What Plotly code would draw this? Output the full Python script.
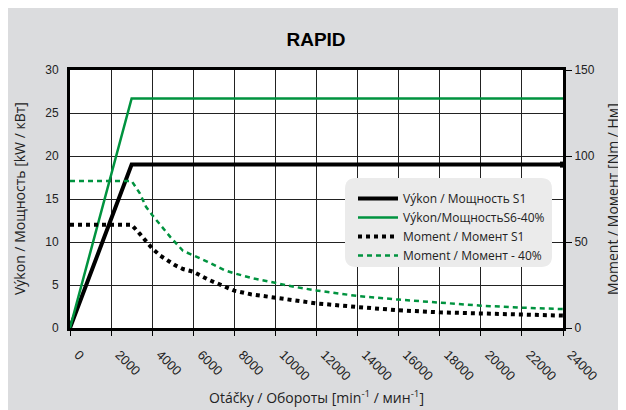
import plotly.graph_objects as go

# ---- data ----
rpm_power = [0, 3000, 24000]
power_s1 = [0, 19, 19]          # kW
power_s6 = [0, 26.7, 26.7]      # kW

rpm_t_s1 = [0, 3000, 3400, 4000, 4400, 5100, 5500, 6000, 6700, 7200, 7600, 8000,
            8800, 9700, 10500, 11400, 12000, 14000, 16000, 18000, 20000, 22000, 24000]
torque_s1 = [60, 60, 54.7, 46.3, 42.0, 36.6, 34.3, 32.7, 28.3, 26.0, 23.8, 21.7,
             19.6, 18.0, 16.7, 15.3, 14.3, 12.2, 10.3, 9.1, 8.3, 7.7, 7.2]   # Nm

rpm_t_s6 = [0, 3000, 3400, 3700, 4000, 4400, 4900, 5500, 6000, 6700, 7500, 8000,
            8900, 10000, 10900, 12000, 14000, 16000, 18000, 20000, 22000, 24000]
torque_s6 = [85.5, 85.5, 78.3, 70.5, 65.7, 59.9, 52.7, 44.9, 42.4, 38.5, 33.7, 31.8,
             28.9, 26.0, 24.0, 21.8, 18.6, 16.5, 14.7, 13.0, 11.8, 11.0]    # Nm

x_ticks = list(range(0, 24001, 2000))
y_ticks = [0, 5, 10, 15, 20, 25, 30]
y2_ticks = [0, 50, 100, 150]

names = ["Výkon / Мощность S1", "Výkon/МощностьS6-40%",
         "Moment / Момент S1", "Moment / Момент - 40%"]

GREEN = "#00933f"
GRAY = "#dbdcde"
NUM = "Liberation Sans, Arial, sans-serif"
TXT = "Open Sans, sans-serif"

fig = go.Figure()
fig.add_trace(go.Scatter(x=rpm_power, y=power_s1, mode="lines", name=names[0],
                         line=dict(color="black", width=4)))
fig.add_trace(go.Scatter(x=rpm_power, y=power_s6, mode="lines", name=names[1],
                         line=dict(color=GREEN, width=2.5)))
fig.add_trace(go.Scatter(x=rpm_t_s1, y=torque_s1, mode="lines", name=names[2], yaxis="y2",
                         line=dict(color="black", width=4, dash="4px,4px")))
fig.add_trace(go.Scatter(x=rpm_t_s6, y=torque_s6, mode="lines", name=names[3], yaxis="y2",
                         line=dict(color=GREEN, width=2.5, dash="5px,4px")))
fig.add_trace(go.Scatter(x=[rpm_power[-1]], y=[power_s1[-1]], mode="markers", showlegend=False,
                         marker=dict(symbol="square", size=6, color="black"), cliponaxis=False))

# page offset of the figure (body margin) and plot area in page pixels
OFF = 8
L, R, T, B = 70, 563, 70, 328
W, H = R - L, B - T
def px(x):
    return (x - L) / W
def py(y):
    return (B - y) / H

# rounded legend box
x0, x1, y0, y1 = px(345), px(552), py(267), py(178)
rx, ry = 11 / W, 11 / H
path = (f"M{x0+rx},{y0} L{x1-rx},{y0} Q{x1},{y0} {x1},{y0+ry} L{x1},{y1-ry} Q{x1},{y1} {x1-rx},{y1} "
        f"L{x0+rx},{y1} Q{x0},{y1} {x0},{y1-ry} L{x0},{y0+ry} Q{x0},{y0} {x0+rx},{y0} Z")

shapes = [
    dict(type="path", xref="paper", yref="paper", path=path, fillcolor="#ebebeb",
         line=dict(width=0), layer="above"),
]

annotations = [
    dict(text="Otáčky / Обороты [min<sup>-1</sup> / мин<sup>-1</sup>]", xref="paper", yref="paper",
         x=0.5, y=py(397), xanchor="center", yanchor="middle", showarrow=False,
         font=dict(family=TXT, size=14, color="#222")),
    dict(text="Výkon / Мощность [kW / кВт]", xref="paper", yref="paper", textangle=-90,
         x=px(19), y=0.5, xanchor="center", yanchor="middle", showarrow=False,
         font=dict(family=TXT, size=14, color="#222")),
    dict(text="Moment / Момент [Nm / Нм]", xref="paper", yref="paper", textangle=-90,
         x=px(612), y=0.5, xanchor="center", yanchor="middle", showarrow=False,
         font=dict(family=TXT, size=14, color="#222")),
]

fig.update_layout(
    width=626, height=410,
    margin=dict(l=L - OFF, r=626 - (R - OFF), t=T - OFF, b=410 - (B - OFF)),
    paper_bgcolor=GRAY, plot_bgcolor="white",
    title=dict(text="<b>RAPID</b>", x=(316 - OFF) / 626, xanchor="center",
               y=1 - (39 - OFF) / 410, yanchor="middle",
               font=dict(family=NUM, size=19, color="black")),
    shapes=shapes, annotations=annotations,
    showlegend=True,
    legend=dict(x=px(353), y=py(184), xanchor="left", yanchor="top", bgcolor="rgba(0,0,0,0)",
                font=dict(family=TXT, size=12, color="#222"), tracegroupgap=0, itemwidth=40,
                traceorder="normal"),
    xaxis=dict(range=[0, 24000], tickvals=x_ticks, ticktext=[str(v) for v in x_ticks],
               tickangle=45, ticks="outside", ticklen=5, tickcolor="black",
               ticklabelstandoff=6, ticklabelshift=8,
               showgrid=True, gridcolor="#222", gridwidth=1,
               showline=True, linecolor="black", linewidth=3, mirror=True, zeroline=False,
               tickfont=dict(family=NUM, size=13, color="#222")),
    yaxis=dict(range=[0, 30], tickvals=y_ticks, ticks="outside", ticklen=6, tickcolor="rgba(0,0,0,0)",
               showgrid=True, gridcolor="#222", gridwidth=1,
               showline=True, linecolor="black", linewidth=3, mirror=True, zeroline=False,
               tickfont=dict(family=NUM, size=12, color="#222")),
    yaxis2=dict(range=[0, 150], tickvals=y2_ticks, overlaying="y", side="right",
                ticks="outside", ticklen=6, tickcolor="black", showgrid=False, zeroline=False,
                showline=True, linecolor="black", linewidth=3,
                tickfont=dict(family=NUM, size=12, color="#222")),
)

fig.write_html("out.html")
